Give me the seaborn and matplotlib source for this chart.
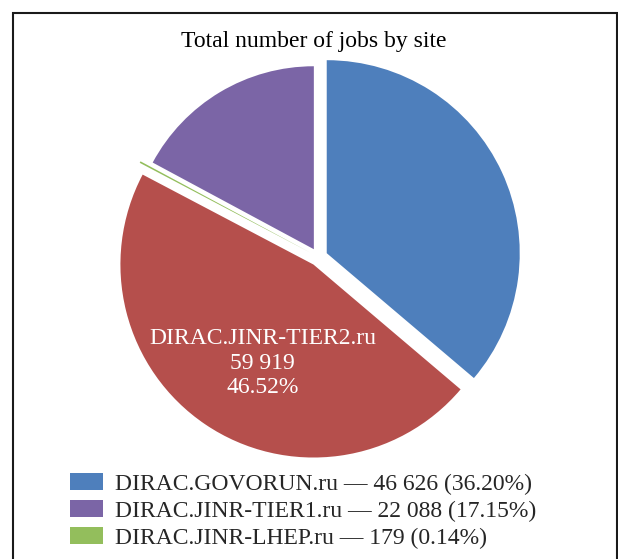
import numpy as np
import matplotlib
matplotlib.use("Agg")
import matplotlib.pyplot as plt
from matplotlib.patches import Rectangle
import seaborn as sns

# ---- data ----
sites = ["DIRAC.GOVORUN.ru", "DIRAC.JINR-TIER2.ru", "DIRAC.JINR-LHEP.ru", "DIRAC.JINR-TIER1.ru"]
jobs = [46626, 59919, 179, 22088]
percents = ["36.20%", "46.52%", "0.14%", "17.15%"]
jobs_text = ["46 626", "59 919", "179", "22 088"]
title = "Total number of jobs by site"

colors = ["#4E7FBC", "#B54F4C", "#93BE5C", "#7B65A6"]

sns.set_theme(style="white")
plt.rcParams["font.family"] = ["Liberation Serif", "DejaVu Serif"]
palette = sns.color_palette(colors)

W, H = 618, 559
fig = plt.figure(figsize=(W / 100, H / 100), dpi=100)
ax = fig.add_axes([0, 0, 1, 1])

wedges, _ = ax.pie(
    jobs,
    colors=palette,
    startangle=90,
    counterclock=False,
    explode=[0.047] * len(jobs),
    radius=1.0,
    wedgeprops=dict(linewidth=0, edgecolor="none"),
)
# slightly smaller radius for the TIER1 slice (as in the reference)
wedges[3].set_radius(0.948)

# axis mapping: 1 data unit = 193 px, pie centre at pixel (318.5, 257)
scale = 193.0
cx, cy = 318.5, 257.0
ax.set_xlim(-cx / scale, (W - cx) / scale)
ax.set_ylim(-(H - cy) / scale, cy / scale)
ax.set_aspect("equal", adjustable="datalim")
ax.axis("off")

# label inside the TIER2 slice
w = wedges[1]
mid = np.deg2rad((w.theta1 + w.theta2) / 2 + 6.85)
wcx, wcy = w.center
r = 0.574
ax.text(wcx + r * np.cos(mid), wcy + r * np.sin(mid),
        f"{sites[1]}\n{jobs_text[1]}\n{percents[1]}",
        ha="center", va="center", color="white", fontsize=17, linespacing=1.2)

fig.text(314 / W, 1 - 42 / H, title, ha="center", va="center", fontsize=17, color="black")

# legend
order = [0, 3, 2]
handles = [wedges[i] for i in order]
labels = [f"{sites[i]} \u2014 {jobs_text[i]} ({percents[i]})" for i in order]
leg = fig.legend(handles, labels, loc="upper left",
                 bbox_to_anchor=(70 / W, 1 - 473 / H),
                 frameon=False, fontsize=17,
                 handlelength=1.4, handleheight=0.75, handletextpad=0.5,
                 labelspacing=0.22, borderpad=0, borderaxespad=0)

# outer frame (open at the bottom)
fig.add_artist(Rectangle((12.5 / W, -0.1), (616.5 - 12.5) / W, 1.1 - 12.5 / H,
                         transform=fig.transFigure, fill=False,
                         edgecolor="#1a1a1a", linewidth=1.5))

fig.savefig("out.png", dpi=100)
